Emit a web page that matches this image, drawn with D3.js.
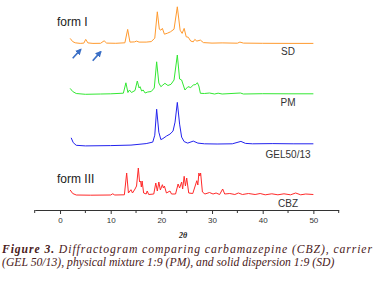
<!DOCTYPE html>
<html>
<head>
<meta charset="utf-8">
<script src="https://cdn.jsdelivr.net/npm/d3@7"></script>
<style>
  body { margin: 0; background: #fff; }
  svg { display: block; }
  .tick text { font-family: "Liberation Sans", Arial, sans-serif; font-size: 8px; fill: #333; }
  .tick line, .domain { stroke: #333; }
  .name { font-family: "Liberation Sans", Arial, sans-serif; font-size: 10px; fill: #333; }
  .form { font-family: "Liberation Sans", Arial, sans-serif; font-size: 12px; fill: #222; }
  .caption { font-family: "Liberation Serif", "Times New Roman", serif; font-style: italic; font-size: 11.7px; fill: #4a2020; }
</style>
</head>
<body>
<svg id="chart" width="375" height="283"></svg>
<script>
// 2theta, intensity above each trace's own baseline (a.u.)
const sd = [[2.0,25],[2.5,9],[3.0,3],[4.0,0],[4.7,1.5],[5.07,20],[5.5,2.5],[6.5,0],[8.0,0.5],[8.7,13],[9.2,1.5],
  [11,0.5],[12.8,3],[13.35,70],[13.8,6.5],[14.7,7.5],[15.1,11.5],[15.6,6.5],[17,6.5],[18,9],[18.7,26],[19.2,158],
  [19.6,71],[19.9,66],[20.2,75],[20.6,46],[21.2,51],[21.8,58],[22.5,71],[23.15,183],[23.7,66],[24.1,50],[24.5,75],
  [24.9,33],[25.3,31],[25.8,11.5],[26.3,8],[26.6,20],[27.0,11.5],[27.7,16.5],[28.3,4],[30,1.5],[32,2.5],[35,1],
  [35.5,6.5],[36.2,1.5],[40,0.5],[45,0],[50,0]]
const pm = [[2.0,28],[2.5,12.5],[3.2,2.5],[5,-1.5],[8,0],[10,1],[12.5,4],[13.0,56],[13.4,7.5],[13.7,20],[14.1,7.5],
  [14.8,17.5],[15.25,65],[15.6,30],[15.8,36.5],[16.1,15],[16.4,20],[16.8,5],[17.3,10],[18.0,12.5],[18.6,30],[19.07,161],
  [19.5,55],[19.9,36.5],[20.3,45],[20.7,53.5],[21.3,42.5],[21.9,48.5],[22.5,70],[23.15,195],[23.6,75],[24.0,70],
  [24.65,20],[25.25,36.5],[25.8,32.5],[26.3,45],[26.8,47.5],[27.1,56.5],[27.4,40],[27.7,3.5],[28.5,2.5],[29.5,5],
  [30.5,0],[31.2,4],[32,0],[35.6,5],[36.2,0],[40,1.5],[45,1],[50,1]]
const gel = [[2.2,39],[2.6,15],[3.2,1.5],[5,-1.5],[10,0],[14,2.5],[17,10],[18.3,17.5],[18.7,52],[19.07,182],[19.5,67],
  [19.9,30],[20.3,35],[21.0,47.5],[21.7,57.5],[22.3,72.5],[22.7,117.5],[23.15,216],[23.6,107.5],[24.0,42.5],[24.5,20],
  [25.2,12.5],[26.3,22.5],[27.2,12.5],[28.5,9],[31,8],[34,9],[35.7,21],[36.6,11],[38,9],[42,10],[46,9],[50,9]]
const cbz = [[2.0,25],[2.5,7.5],[3.2,0],[6,-1],[10,0],[10.4,6],[10.8,0],[12.7,1],[13.15,110],[13.5,10],[14.0,26.5],
  [14.3,10],[14.8,30],[15.1,45],[15.45,135],[15.7,65],[15.9,70],[16.05,40],[16.2,70],[16.5,10],[17.0,5],[17.2,20],
  [17.5,2.5],[18.5,5],[18.9,60],[19.2,20],[19.5,65],[19.8,25],[20.2,51.5],[20.4,35],[20.6,45],[21.0,10],[21.7,20],
  [22.0,5],[22.8,5],[23.3,55],[23.6,35],[24.0,65],[24.2,30],[24.5,93.5],[24.75,45],[25.0,85],[25.4,10],[26.2,7.5],
  [27.0,71.5],[27.2,50],[27.4,110],[27.6,95],[27.75,110],[28.1,15],[28.6,5],[29.5,12.5],[30.2,5],[30.8,10],[31.5,2.5],
  [32.1,30],[32.5,5],[33.5,7.5],[34.5,2.5],[35.2,10],[36,2.5],[37.2,7.5],[38.5,2.5],[39.5,7.5],[40.5,1],[41.8,6],
  [43,1],[44.2,6],[45.5,1],[46.5,10],[47.5,1],[48.5,5],[50,2.5]]

const names = ['SD', 'PM', 'GEL50/13', 'CBZ']
const offsets = [833, 580, 322, 75]   // stacking offset of each trace
const colors = ['#ff9a2e', '#33e833', '#2323ee', '#ff2a2a']
const seriesData = [sd, pm, gel, cbz]

const majorTicks = [0, 10, 20, 30, 40, 50]
const minorTicks = [-5, 5, 15, 25, 35, 45, 55]
const forms = [{ text: 'form I', trace: 0, at: -0.6, above: 87 }, { text: 'form III', trace: 3, at: -0.6, above: 62 }]
const arrows = [{ from: [2.5, 759], to: [4.1, 803] }, { from: [6.45, 746], to: [8.05, 792] }]

const svg = d3.select('#chart')
const axisY = 210

const x = d3.scaleLinear().domain([-5, 55]).range([34.7, 338.7])
const y = d3.scaleLinear().domain([0, 1050]).range([axisY, 0])

// traces
const line = d3.line()
  .x(d => x(d[0]))
  .y(d => y(d[1]))
  .curve(d3.curveLinear)

seriesData.forEach((s, i) => {
  svg.append('path')
    .datum(s.map(p => [p[0], p[1] + offsets[i]]))
    .attr('d', line)
    .attr('fill', 'none')
    .attr('stroke', colors[i])
    .attr('stroke-width', 1)
    .attr('stroke-linejoin', 'round')

  svg.append('text')
    .attr('class', 'name')
    .attr('x', x(45))
    .attr('y', y(offsets[i]) + 12)
    .attr('text-anchor', 'middle')
    .text(names[i])
})

forms.forEach(f => {
  svg.append('text')
    .attr('class', 'form')
    .attr('x', x(f.at))
    .attr('y', y(offsets[f.trace] + f.above))
    .text(f.text)
})

// arrows pointing at the small SD peaks
svg.append('defs').append('marker')
  .attr('id', 'head')
  .attr('viewBox', '0 0 10 10')
  .attr('refX', 8).attr('refY', 5)
  .attr('markerWidth', 4).attr('markerHeight', 4)
  .attr('orient', 'auto')
  .append('path')
  .attr('d', 'M0,0 L10,5 L0,10 z')
  .attr('fill', '#3b6fc6')

arrows.forEach(a => {
  svg.append('line')
    .attr('x1', x(a.from[0])).attr('y1', y(a.from[1]))
    .attr('x2', x(a.to[0])).attr('y2', y(a.to[1]))
    .attr('stroke', '#3b6fc6')
    .attr('stroke-width', 1.6)
    .attr('marker-end', 'url(#head)')
})

// x axis
const gx = svg.append('g')
  .attr('transform', `translate(0, ${axisY})`)

gx.call(d3.axisBottom(x)
  .tickValues(majorTicks)
  .tickSize(4)
  .tickSizeOuter(0)
  .tickPadding(3))

gx.selectAll('.minor')
  .data(minorTicks)
  .enter()
  .append('line')
  .attr('class', 'minor')
  .attr('x1', d => x(d)).attr('x2', d => x(d))
  .attr('y1', 0).attr('y2', 3)
  .attr('stroke', '#333')

svg.append('text')
  .attr('x', 183)
  .attr('y', 237.5)
  .attr('text-anchor', 'middle')
  .style('font-family', '"Liberation Serif", serif')
  .style('font-weight', 'bold')
  .style('font-style', 'italic')
  .style('font-size', '8px')
  .attr('fill', '#222')
  .text('2θ')

// caption
const cap1 = svg.append('text')
  .attr('class', 'caption')
  .attr('x', 2)
  .attr('y', 253)
  .attr('textLength', 370)
  .attr('lengthAdjust', 'spacing')
cap1.append('tspan').style('font-weight', 'bold').text('Figure 3.')
cap1.append('tspan').text(' Diffractogram comparing carbamazepine (CBZ), carrier')

svg.append('text')
  .attr('class', 'caption')
  .attr('x', 2)
  .attr('y', 266)
  .text('(GEL 50/13), physical mixture 1:9 (PM), and solid dispersion 1:9 (SD)')
</script>
</body>
</html>
